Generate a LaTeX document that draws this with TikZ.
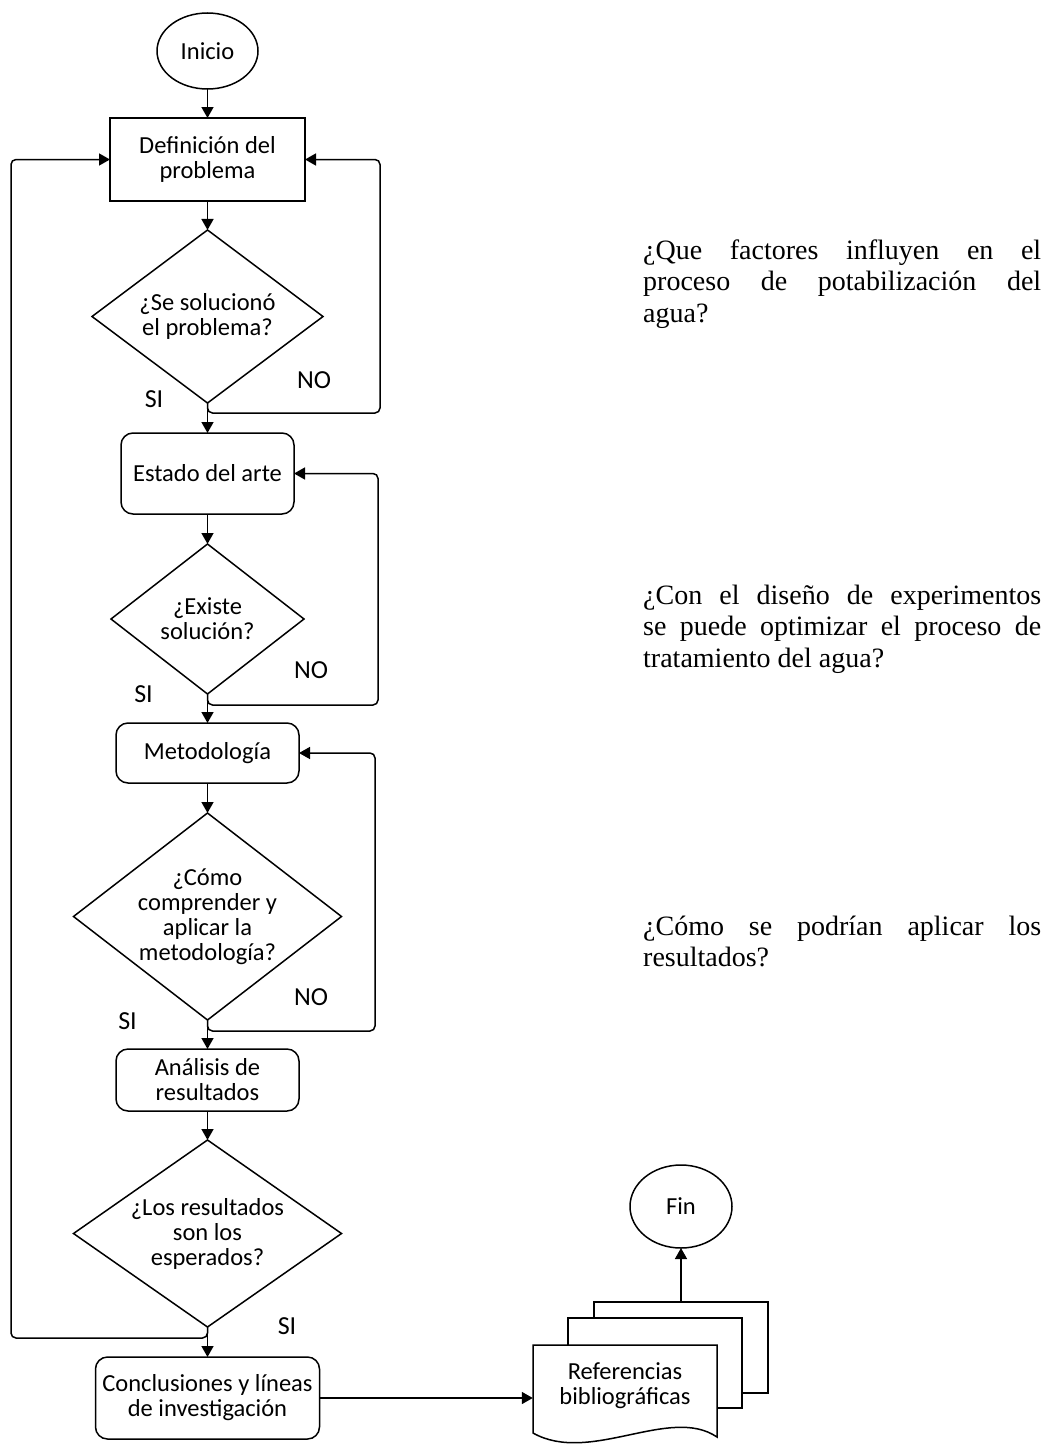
\documentclass[tikz,border=0pt]{standalone}
\usepackage{fontspec}
\setmainfont{Carlito}
\newfontfamily\questionfont{Liberation Serif}
\usetikzlibrary{shapes.geometric,arrows.meta}

\tikzset{
  base/.style={draw, line width=1.5pt, outer sep=0pt, inner sep=0pt, align=center,
    font=\fontsize{24.5}{25}\selectfont},
  terminal/.style={base, ellipse},
  process/.style={base, rectangle},
  roundproc/.style={base, rectangle, rounded corners=12pt},
  decision/.style={base, diamond},
  label/.style={inner sep=0pt, align=center, font=\fontsize{24.5}{25}\selectfont},
  flow/.style={line width=1.5pt, -{Triangle[length=11pt,width=12pt]}},
  loopline/.style={flow, rounded corners=5pt},
  answer/.style={inner sep=0pt, font=\fontsize{26}{26}\selectfont},
  docsheet/.style={draw, line width=1.5pt, fill=white, outer sep=0pt, inner sep=0pt},
  question/.style={anchor=base west, inner sep=0pt,
    font=\questionfont\fontsize{28}{31.5}\selectfont},
}

\begin{document}
\begin{tikzpicture}[x=1pt, y=-1pt]
  \useasboundingbox (0,0) rectangle (1054,1448);

  % main column
  \node[terminal, minimum width=101pt, minimum height=76pt] (inicio) at (207.5,51) {Inicio};
  \node[process, minimum width=195pt, minimum height=83pt] (def) at (207.5,159.5) {Definición del\\problema};

  \node[decision, minimum width=231pt, minimum height=173pt] (d1) at (207.5,316.5) {};
  \node[label] (d1t) at (d1) {¿Se solucionó\\el problema?};

  \node[roundproc, minimum width=173pt, minimum height=81pt] (estado) at (207.5,473.5) {Estado del arte};

  \node[decision, minimum width=193pt, minimum height=150pt] (d2) at (207.5,619) {};
  \node[label] (d2t) at (d2) {¿Existe\\solución?};

  \node[roundproc, minimum width=183pt, minimum height=60pt] (metod) at (207.5,753) {Metodología};

  \node[decision, minimum width=268pt, minimum height=207pt] (d3) at (207.5,916.5) {};
  \node[label] (d3t) at (d3) {¿Cómo\\comprender y\\aplicar la\\metodología?};

  \node[roundproc, minimum width=183pt, minimum height=62pt] (analisis) at (207.5,1080) {Análisis de\\resultados};

  \node[decision, minimum width=268pt, minimum height=187pt] (d4) at (207.5,1233.5) {};
  \node[label] (d4t) at (d4) {¿Los resultados\\son los\\esperados?};

  \node[roundproc, minimum width=224pt, minimum height=82pt] (concl) at (207.5,1398) {Conclusiones y líneas\\de investigación};

  % stacked documents and end
  \node[docsheet, minimum width=174pt, minimum height=91pt] (bib3) at (681,1347.5) {};
  \node[docsheet, minimum width=174pt, minimum height=90pt] (bib2) at (655,1363) {};
  \draw[line width=1.5pt, fill=white] (533,1345) -- (717,1345) -- (717,1437)
    .. controls (670,1405) and (590,1465) .. (533,1433) -- cycle;
  \node[label, minimum width=184pt, minimum height=81pt] (refs) at (625,1385.5) {Referencias\\bibliográficas};

  \node[terminal, minimum width=102pt, minimum height=83pt] (fin) at (681,1206.5) {Fin};

  % straight connectors
  \draw[flow] (inicio) -- (def);
  \draw[flow] (def) -- (d1);
  \draw[flow] (d1.south) -- (estado.north);
  \draw[flow] (estado) -- (d2);
  \draw[flow] (d2.south) -- (metod.north);
  \draw[flow] (metod) -- (d3);
  \draw[flow] (d3.south) -- (analisis.north);
  \draw[flow] (analisis) -- (d4);
  \draw[flow] (d4.south) -- (concl.north);
  \draw[flow] (concl.east) -- (concl.east -| refs.west);
  \draw[flow] (bib3.north) -- (fin.south);

  % return loops
  \coordinate (r1) at (380,413);
  \coordinate (r2) at (378,705);
  \coordinate (r3) at (375,1031);
  \coordinate (l4) at (11,1338);
  \draw[loopline] (d1.south) |- (r1) |- (def.east);
  \draw[loopline] (d2.south) |- (r2) |- (estado.east);
  \draw[loopline] (d3.south) |- (r3) |- (metod.east);
  \draw[loopline] (d4.south) |- (l4) |- (def.west);

  % branch labels
  \node[answer] (si1) at (154,399) {SI};
  \node[answer] (no1) at (314,380) {NO};
  \node[answer] (si2) at (143.5,694) {SI};
  \node[answer] (no2) at (311,670.5) {NO};
  \node[answer] (si3) at (127.5,1021) {SI};
  \node[answer] (no3) at (311,997) {NO};
  \node[answer] (si4) at (287,1326) {SI};

  % research questions
  \node[question] (q1) at (643,259) {\parbox[t]{398pt}{%
    \makebox[\linewidth][s]{¿Que factores influyen en el}\\
    \makebox[\linewidth][s]{proceso de potabilización del}\\
    agua?}};
  \node[question] (q2) at (643,604) {\parbox[t]{398pt}{%
    \makebox[\linewidth][s]{¿Con el diseño de experimentos}\\
    \makebox[\linewidth][s]{se puede optimizar el proceso de}\\
    tratamiento del agua?}};
  \node[question] (q3) at (643,935) {\parbox[t]{398pt}{%
    \makebox[\linewidth][s]{¿Cómo se podrían aplicar los}\\
    resultados?}};
\end{tikzpicture}
\end{document}
